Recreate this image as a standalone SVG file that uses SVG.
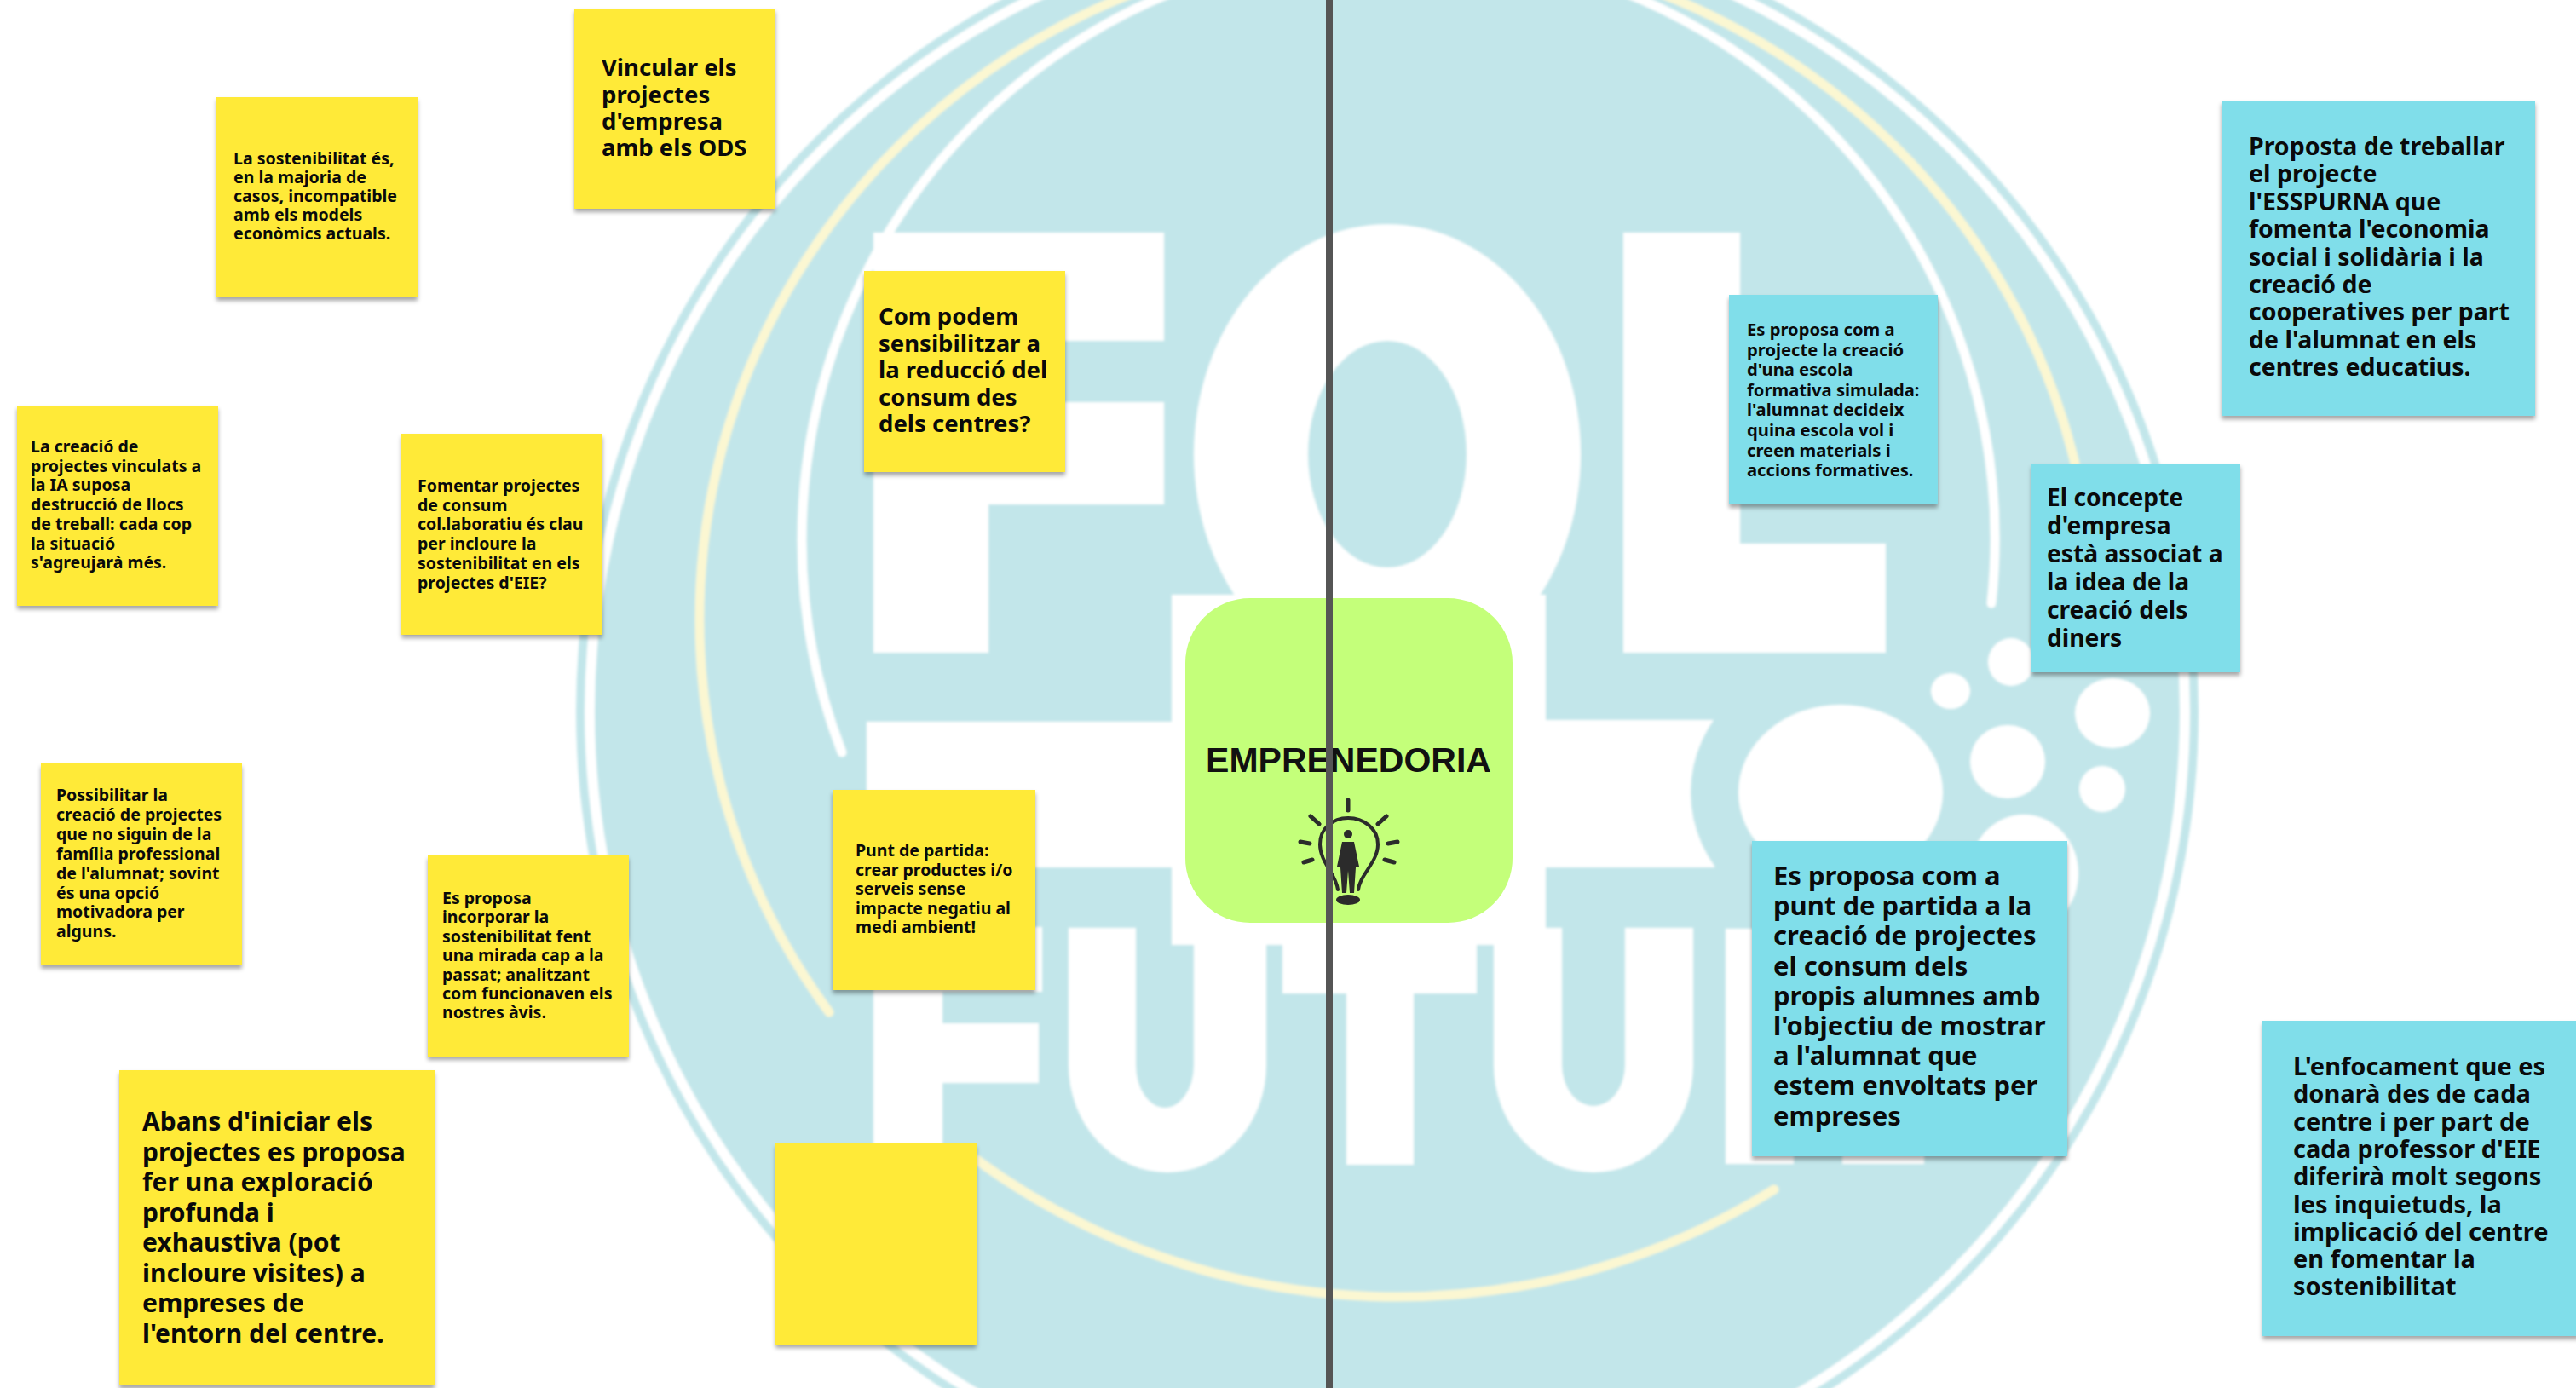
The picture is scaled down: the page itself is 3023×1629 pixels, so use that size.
<svg xmlns="http://www.w3.org/2000/svg" width="3023" height="1629" viewBox="0 0 3023 1629">
<style>
.bg{fill:#c2e6ea}
.w{fill:#fff}
.ln{fill:none;stroke-linecap:round}
.y{fill:#ffea38;filter:url(#sh)}
.b{fill:#80deea;filter:url(#sh)}
.t{font-family:"Noto Sans","Open Sans",sans-serif;font-weight:700;fill:#0a0a0a}
.s{font-size:19.5px}
.l{font-size:27.5px}
.i{fill:none;stroke:#2b2b2b;stroke-width:4;stroke-linecap:round}
</style>
<defs>
<filter id="sh" x="-5%" y="-5%" width="110%" height="110%"><feDropShadow dx="0" dy="4" stdDeviation="2.5" flood-color="#000" flood-opacity=".35"/></filter>
<filter id="soft" x="-2%" y="-2%" width="104%" height="104%"><feGaussianBlur stdDeviation="1.5"/></filter>
</defs>
<g id="background" filter="url(#soft)">
<ellipse class="bg" cx="1628" cy="835" rx="952" ry="950"/>
<ellipse cx="1628" cy="835" rx="936" ry="934" class="ln" stroke="#fff" stroke-width="12"/>
<path class="ln" stroke="#fff" stroke-width="11" d="M988 883A700 694 0 1 1 2337 708"/>
<path class="ln" stroke="#fbf7d2" stroke-width="11" d="M973 1188A818 794 0 1 1 2452 640"/>
<path class="ln" stroke="#fbf7d2" stroke-width="11" d="M1146 1361A818 794 0 0 0 2082 1396"/>
<g class="w">
<path d="M1025 273H1366V400H1160V472H1366V592H1160V766H1025Z"/>
<path fill-rule="evenodd" d="M1401 533A227 270 0 0 1 1855 533A227 270 0 0 1 1401 533ZM1535 533A93 133 0 0 0 1721 533A93 133 0 0 0 1535 533Z"/>
<path d="M1905 273H2042V638H2213V766H1905Z"/>
<rect x="1017" y="847" width="400" height="171"/>
<rect x="1780" y="845" width="232" height="173"/>
</g>
<ellipse class="bg" cx="2160" cy="930" rx="176" ry="160"/>
<g class="w">
<ellipse cx="2160" cy="930" rx="120" ry="103"/>
<ellipse cx="2289" cy="811" rx="23" ry="21"/>
<ellipse cx="2360" cy="777" rx="27" ry="28"/>
<ellipse cx="2479" cy="837" rx="44" ry="41"/>
<ellipse cx="2356" cy="894" rx="44" ry="43"/>
<ellipse cx="2467" cy="926" rx="27" ry="27"/>
<ellipse cx="2375" cy="1025" rx="64" ry="69"/>
<path d="M1025 1088H1223V1164H1106V1201H1219V1271H1106V1366H1025Z"/>
<path d="M1254 1089H1333V1250A34 50 0 0 0 1401 1250V1089H1486V1250A116 126 0 0 1 1254 1250Z"/>
<path d="M1505 1088H1733V1166H1659V1367H1580V1166H1505Z"/>
<path d="M1753 1089H1833V1250A37 48 0 0 0 1907 1250V1089H1987V1250A117 126 0 0 1 1753 1250Z"/>
<path d="M2025 1090H2258V1366H2162V1300H2105V1366H2025Z"/>
<rect x="1375" y="698" width="439" height="411"/>
</g>
</g>
<g id="node-vincular"><rect class="y" x="674" y="10" width="236" height="235"/><text class="t l"><tspan x="706" y="89">Vincular els</tspan><tspan x="706" y="120.500">projectes</tspan><tspan x="706" y="152">d'empresa</tspan><tspan x="706" y="183">amb els ODS</tspan></text></g>
<g id="node-sostenibilitat"><rect class="y" x="254" y="114" width="236" height="235"/><text class="t s"><tspan x="274" y="193">La sostenibilitat és,</tspan><tspan x="274" y="215">en la majoria de</tspan><tspan x="274" y="237">casos, incompatible</tspan><tspan x="274" y="259">amb els models</tspan><tspan x="274" y="281">econòmics actuals.</tspan></text></g>
<g id="node-ia"><rect class="y" x="20" y="476" width="236" height="235"/><text class="t s"><tspan x="36" y="531">La creació de</tspan><tspan x="36" y="553.700">projectes vinculats a</tspan><tspan x="36" y="576.400">la IA suposa</tspan><tspan x="36" y="599.100">destrucció de llocs</tspan><tspan x="36" y="621.800">de treball: cada cop</tspan><tspan x="36" y="644.500">la situació</tspan><tspan x="36" y="667.200">s'agreujarà més.</tspan></text></g>
<g id="node-fomentar"><rect class="y" x="471" y="509" width="236" height="236"/><text class="t s"><tspan x="490" y="577">Fomentar projectes</tspan><tspan x="490" y="599.700">de consum</tspan><tspan x="490" y="622.400">col.laboratiu és clau</tspan><tspan x="490" y="645.100">per incloure la</tspan><tspan x="490" y="667.800">sostenibilitat en els</tspan><tspan x="490" y="690.500">projectes d'EIE?</tspan></text></g>
<g id="node-com-podem"><rect class="y" x="1014" y="318" width="236" height="236"/><text class="t l"><tspan x="1031" y="381">Com podem</tspan><tspan x="1031" y="412.500">sensibilitzar a</tspan><tspan x="1031" y="444">la reducció del</tspan><tspan x="1031" y="475.500">consum des</tspan><tspan x="1031" y="507">dels centres?</tspan></text></g>
<g id="node-possibilitar"><rect class="y" x="48" y="896" width="236" height="237"/><text class="t s"><tspan x="66" y="940">Possibilitar la</tspan><tspan x="66" y="962.900">creació de projectes</tspan><tspan x="66" y="985.800">que no siguin de la</tspan><tspan x="66" y="1008.700">família professional</tspan><tspan x="66" y="1031.600">de l'alumnat; sovint</tspan><tspan x="66" y="1054.500">és una opció</tspan><tspan x="66" y="1077.400">motivadora per</tspan><tspan x="66" y="1100.300">alguns.</tspan></text></g>
<g id="node-avis"><rect class="y" x="502" y="1004" width="236" height="236"/><text class="t s"><tspan x="519" y="1061">Es proposa</tspan><tspan x="519" y="1083.400">incorporar la</tspan><tspan x="519" y="1105.800">sostenibilitat fent</tspan><tspan x="519" y="1128.200">una mirada cap a la</tspan><tspan x="519" y="1150.600">passat; analitzant</tspan><tspan x="519" y="1173">com funcionaven els</tspan><tspan x="519" y="1195.400">nostres àvis.</tspan></text></g>
<g id="node-punt"><rect class="y" x="977" y="927" width="238" height="235"/><text class="t s"><tspan x="1004" y="1005">Punt de partida:</tspan><tspan x="1004" y="1027.600">crear productes i/o</tspan><tspan x="1004" y="1050.200">serveis sense</tspan><tspan x="1004" y="1072.800">impacte negatiu al</tspan><tspan x="1004" y="1095.400">medi ambient!</tspan></text></g>
<g id="node-abans"><rect class="y" x="140" y="1256" width="370" height="370"/><text class="t" style="font-size:30px"><tspan x="167" y="1327">Abans d'iniciar els</tspan><tspan x="167" y="1362.500">projectes es proposa</tspan><tspan x="167" y="1398">fer una exploració</tspan><tspan x="167" y="1433.500">profunda i</tspan><tspan x="167" y="1469">exhaustiva (pot</tspan><tspan x="167" y="1504.500">incloure visites) a</tspan><tspan x="167" y="1540">empreses de</tspan><tspan x="167" y="1575.500">l'entorn del centre.</tspan></text></g>
<g id="node-buit"><rect class="y" x="910" y="1342" width="236" height="236"/></g>
<g id="node-central"><rect x="1391" y="702" width="384" height="381" rx="76" fill="#c4ff7a"/><text x="1582.500" y="906" text-anchor="middle" font-family="'Liberation Sans',Arial,sans-serif" font-weight="700" font-size="41" fill="#111">EMPRENEDORIA</text>
<g class="i"><path d="M1570 1044C1568 1026 1549 1012 1549 991C1549 972 1564 960 1582 960C1600 960 1617 972 1617 991C1617 1012 1596 1026 1594 1044"/><path d="M1582 939V951M1538 958L1548 967M1627 958L1617 967M1526 988L1537 990M1640 988L1629 990M1530 1012L1540 1009M1636 1012L1625 1009" stroke-width="5"/></g>
<circle cx="1582" cy="979" r="5" fill="#2b2b2b"/><path d="M1575 988H1589L1595 1017L1591 1018L1589 1048H1584L1582 1022L1580 1048H1575L1573 1018L1569 1017Z" fill="#2b2b2b"/><ellipse cx="1582" cy="1056" rx="14" ry="6" fill="#2b2b2b"/></g>
<g id="node-esplai"><rect class="b" x="2029" y="346" width="245" height="246"/><text class="t" style="font-size:20.200px"><tspan x="2050" y="394">Es proposa com a</tspan><tspan x="2050" y="417.600">projecte la creació</tspan><tspan x="2050" y="441.200">d'una escola</tspan><tspan x="2050" y="464.800">formativa simulada:</tspan><tspan x="2050" y="488.400">l'alumnat decideix</tspan><tspan x="2050" y="512">quina escola vol i</tspan><tspan x="2050" y="535.600">creen materials i</tspan><tspan x="2050" y="559.200">accions formatives.</tspan></text></g>
<g id="node-espurna"><rect class="b" x="2607" y="118" width="368" height="370"/><text class="t" style="font-size:28.500px"><tspan x="2639" y="182">Proposta de treballar</tspan><tspan x="2639" y="214.400">el projecte</tspan><tspan x="2639" y="246.800">l'ESSPURNA que</tspan><tspan x="2639" y="279.200">fomenta l'economia</tspan><tspan x="2639" y="311.600">social i solidària i la</tspan><tspan x="2639" y="344">creació de</tspan><tspan x="2639" y="376.400">cooperatives per part</tspan><tspan x="2639" y="408.800">de l'alumnat en els</tspan><tspan x="2639" y="441.200">centres educatius.</tspan></text></g>
<g id="node-concepte"><rect class="b" x="2384" y="544" width="245" height="245"/><text class="t" style="font-size:28.200px"><tspan x="2402" y="594">El concepte</tspan><tspan x="2402" y="627">d'empresa</tspan><tspan x="2402" y="660">està associat a</tspan><tspan x="2402" y="693">la idea de la</tspan><tspan x="2402" y="726">creació dels</tspan><tspan x="2402" y="759">diners</tspan></text></g>
<g id="node-consum"><rect class="b" x="2056" y="987" width="370" height="370"/><text class="t" style="font-size:31px"><tspan x="2081" y="1039">Es proposa com a</tspan><tspan x="2081" y="1074.200">punt de partida a la</tspan><tspan x="2081" y="1109.400">creació de projectes</tspan><tspan x="2081" y="1144.600">el consum dels</tspan><tspan x="2081" y="1179.800">propis alumnes amb</tspan><tspan x="2081" y="1215">l'objectiu de mostrar</tspan><tspan x="2081" y="1250.200">a l'alumnat que</tspan><tspan x="2081" y="1285.400">estem envoltats per</tspan><tspan x="2081" y="1320.600">empreses</tspan></text></g>
<g id="node-enfocament"><rect class="b" x="2655" y="1198" width="372" height="370"/><text class="t" style="font-size:29px"><tspan x="2691" y="1262">L'enfocament que es</tspan><tspan x="2691" y="1294.300">donarà des de cada</tspan><tspan x="2691" y="1326.600">centre i per part de</tspan><tspan x="2691" y="1358.900">cada professor d'EIE</tspan><tspan x="2691" y="1391.200">diferirà molt segons</tspan><tspan x="2691" y="1423.500">les inquietuds, la</tspan><tspan x="2691" y="1455.800">implicació del centre</tspan><tspan x="2691" y="1488.100">en fomentar la</tspan><tspan x="2691" y="1520.400">sostenibilitat</tspan></text></g>
<g id="connectors"><line x1="1560" y1="0" x2="1560" y2="1629" stroke="#555" stroke-width="8"/></g>
</svg>
